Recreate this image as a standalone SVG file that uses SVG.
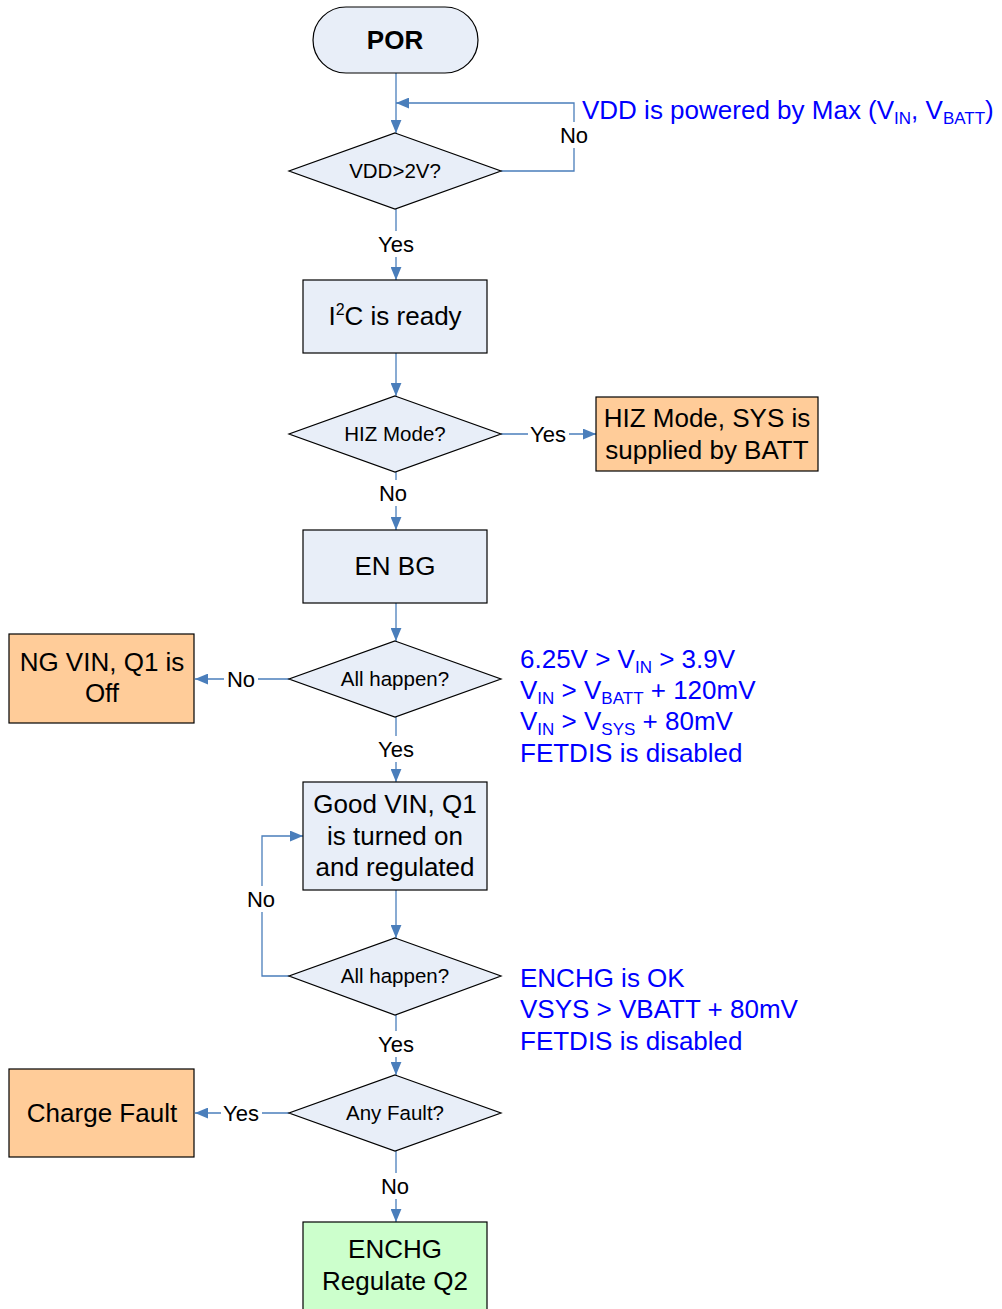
<svg xmlns="http://www.w3.org/2000/svg" width="1002" height="1309" viewBox="0 0 1002 1309">
<defs>
<marker id="ah" viewBox="0 0 12 10" refX="12" refY="5" markerWidth="13" markerHeight="11" markerUnits="userSpaceOnUse" orient="auto">
<path d="M0,0 L12,5 L0,10 Z" fill="#4a7ebb"/>
</marker>
<style>
.box{stroke:#000;stroke-width:1.2}
.blue{fill:#e8eef8}
.org{fill:#ffcc99}
.grn{fill:#ccffcc}
.t{font-family:"Liberation Sans",Arial,sans-serif;font-size:26px;fill:#000;text-anchor:middle}
.d{font-family:"Liberation Sans",Arial,sans-serif;font-size:20.5px;fill:#000;text-anchor:middle}
.lb{font-family:"Liberation Sans",Arial,sans-serif;font-size:22px;fill:#000;text-anchor:middle}
.note{font-family:"Liberation Sans",Arial,sans-serif;font-size:26px;fill:#0000ff}
.c{fill:none;stroke:#4a7ebb;stroke-width:1.3}
</style>
</defs>
<rect width="1002" height="1309" fill="#fff"/>
<g id="connectors">
<path class="c" d="M396,73 V133" marker-end="url(#ah)"/>
<path class="c" d="M501,171 H574 V103 H396" marker-end="url(#ah)"/>
<path class="c" d="M396,209 V280" marker-end="url(#ah)"/>
<path class="c" d="M396,353 V396" marker-end="url(#ah)"/>
<path class="c" d="M501,434 H596" marker-end="url(#ah)"/>
<path class="c" d="M396,472 V530" marker-end="url(#ah)"/>
<path class="c" d="M396,603 V641" marker-end="url(#ah)"/>
<path class="c" d="M289,679 H195" marker-end="url(#ah)"/>
<path class="c" d="M396,717 V782" marker-end="url(#ah)"/>
<path class="c" d="M396,890 V938" marker-end="url(#ah)"/>
<path class="c" d="M289,976 H262 V836 H303" marker-end="url(#ah)"/>
<path class="c" d="M396,1015 V1075" marker-end="url(#ah)"/>
<path class="c" d="M289,1113 H195" marker-end="url(#ah)"/>
<path class="c" d="M396,1151 V1222" marker-end="url(#ah)"/>
<g id="labels">
<rect x="557" y="122" width="34" height="26" fill="#fff"/>
<text class="lb" x="574" y="143">No</text>
<rect x="375" y="231" width="42" height="26" fill="#fff"/>
<text class="lb" x="396" y="252">Yes</text>
<rect x="528" y="421" width="41" height="26" fill="#fff"/>
<text class="lb" x="548" y="442">Yes</text>
<rect x="376" y="480" width="34" height="26" fill="#fff"/>
<text class="lb" x="393" y="501">No</text>
<rect x="224" y="666" width="34" height="26" fill="#fff"/>
<text class="lb" x="241" y="687">No</text>
<rect x="375" y="736" width="42" height="26" fill="#fff"/>
<text class="lb" x="396" y="757">Yes</text>
<rect x="244" y="886" width="34" height="26" fill="#fff"/>
<text class="lb" x="261" y="907">No</text>
<rect x="375" y="1031" width="42" height="26" fill="#fff"/>
<text class="lb" x="396" y="1052">Yes</text>
<rect x="221" y="1100" width="41" height="26" fill="#fff"/>
<text class="lb" x="241" y="1121">Yes</text>
<rect x="378" y="1173" width="34" height="26" fill="#fff"/>
<text class="lb" x="395" y="1194">No</text>
</g>
</g>
<g id="por">
<rect class="box blue" x="313" y="7" width="165" height="66" rx="33" ry="33"/>
<text class="t" x="395" y="49" font-weight="bold" font-size="27">POR</text>
</g>
<g id="vdd-check">
<polygon class="box blue" points="395,133 501,171 395,209 289,171"/>
<text class="d" x="395" y="178">VDD&gt;2V?</text>
</g>
<g id="i2c">
<rect class="box blue" x="303" y="280" width="184" height="73"/>
<text class="t" x="395" y="325">I<tspan font-size="16" dy="-10">2</tspan><tspan dy="10">C is ready</tspan></text>
</g>
<g id="hiz-check">
<polygon class="box blue" points="395,396 501,434 395,472 289,434"/>
<text class="d" x="395" y="441">HIZ Mode?</text>
</g>
<g id="hiz-mode">
<rect class="box org" x="596" y="397" width="222" height="74"/>
<text class="t" x="707" y="427">HIZ Mode, SYS is</text>
<text class="t" x="707" y="459">supplied by BATT</text>
</g>
<g id="en-bg">
<rect class="box blue" x="303" y="530" width="184" height="73"/>
<text class="t" x="395" y="575">EN BG</text>
</g>
<g id="all-happen-1">
<polygon class="box blue" points="395,641 501,679 395,717 289,679"/>
<text class="d" x="395" y="686">All happen?</text>
</g>
<g id="ng-vin">
<rect class="box org" x="9" y="634" width="185" height="89"/>
<text class="t" x="102" y="671">NG VIN, Q1 is</text>
<text class="t" x="102" y="702">Off</text>
</g>
<g id="note-1">
<text class="note" x="520" y="668">6.25V &gt; V<tspan font-size="17" dy="5">IN</tspan><tspan dy="-5"> &gt; 3.9V</tspan></text>
<text class="note" x="520" y="699">V<tspan font-size="17" dy="5">IN</tspan><tspan dy="-5"> &gt; V</tspan><tspan font-size="17" dy="5">BATT</tspan><tspan dy="-5"> + 120mV</tspan></text>
<text class="note" x="520" y="730">V<tspan font-size="17" dy="5">IN</tspan><tspan dy="-5"> &gt; V</tspan><tspan font-size="17" dy="5">SYS</tspan><tspan dy="-5"> + 80mV</tspan></text>
<text class="note" x="520" y="762">FETDIS is disabled</text>
</g>
<g id="good-vin">
<rect class="box blue" x="303" y="782" width="184" height="108"/>
<text class="t" x="395" y="813">Good VIN, Q1</text>
<text class="t" x="395" y="845">is turned on</text>
<text class="t" x="395" y="876">and regulated</text>
</g>
<g id="all-happen-2">
<polygon class="box blue" points="395,938 501,976 395,1015 289,976"/>
<text class="d" x="395" y="983">All happen?</text>
</g>
<g id="note-2">
<text class="note" x="520" y="987">ENCHG is OK</text>
<text class="note" x="520" y="1018">VSYS &gt; VBATT + 80mV</text>
<text class="note" x="520" y="1050">FETDIS is disabled</text>
</g>
<g id="any-fault">
<polygon class="box blue" points="395,1075 501,1113 395,1151 289,1113"/>
<text class="d" x="395" y="1120">Any Fault?</text>
</g>
<g id="charge-fault">
<rect class="box org" x="9" y="1069" width="185" height="88"/>
<text class="t" x="102" y="1122">Charge Fault</text>
</g>
<g id="enchg">
<rect class="box grn" x="303" y="1222" width="184" height="100"/>
<text class="t" x="395" y="1258">ENCHG</text>
<text class="t" x="395" y="1290">Regulate Q2</text>
</g>
<g id="note-vdd">
<text class="note" x="582" y="119">VDD is powered by Max (V<tspan font-size="17" dy="5">IN</tspan><tspan dy="-5">, V</tspan><tspan font-size="17" dy="5">BATT</tspan><tspan dy="-5">)</tspan></text>
</g>
</svg>
